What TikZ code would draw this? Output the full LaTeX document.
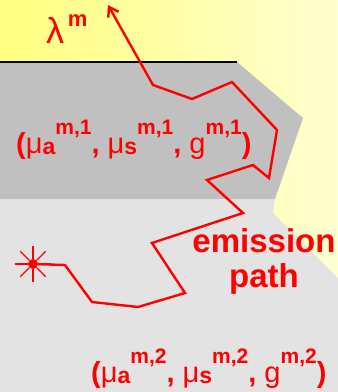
\documentclass[tikz,border=0pt]{standalone}
\usepackage{fontspec}
\setmainfont{Liberation Sans}
\usepackage{tikz}
\usetikzlibrary{arrows.meta}
\definecolor{cYelDeep}{HTML}{FFFF80}
\definecolor{cYelPale}{HTML}{FFFFD0}
\definecolor{cLayerA}{HTML}{C0C0C0}
\definecolor{cLayerB}{HTML}{E3E3E3}
\definecolor{cPhoton}{HTML}{FF0000}
\newcommand{\lsup}[1]{\raisebox{19pt}{\fontsize{21}{21}\selectfont #1}}
\newcommand{\lsub}[1]{\raisebox{-1pt}{\fontsize{23}{23}\selectfont #1}}
\newcommand{\thin}[1]{{\mdseries #1}}
\tikzset{
  photon/.style={-{Straight Barb[length=9pt,width=12pt]}, line width=2.4pt, draw=cPhoton, line join=miter},
  ray/.style   ={draw=cPhoton, line width=1.1pt},
  srcdot/.style={circle, fill=cPhoton, inner sep=0pt, minimum size=10pt},
  lbl/.style   ={text=cPhoton, inner sep=0pt, font=\bfseries\fontsize{29}{29}\selectfont},
}
\begin{document}
\begin{tikzpicture}[x=1pt,y=-1pt]
        \useasboundingbox (0,0) rectangle (338,392);
        % background and tissue layers
        \shade[left color=cYelDeep, right color=cYelPale] (0,0) rectangle (338,392);
        \fill[cLayerA] (0,62) -- (237,62) -- (303,118) -- (275,199) -- (0,199) -- cycle;
        \fill[cLayerB] (0,199) -- (275,199) -- (273,213) -- (338,278) -- (338,392) -- (0,392) -- cycle;
        \draw[black,line width=2pt] (0,62) -- (237,62);
        % emission path
        \node[srcdot] (src) at (33,264){};
        \foreach \a in {0,45,...,315} \draw[ray] (src) -- ++(\a:18);
        \coordinate (p1) at (65,265);
        \coordinate (p2) at (92,302);
        \coordinate (p3) at (138,307);
        \coordinate (p4) at (185,293);
        \coordinate (p5) at (152,243);
        \coordinate (p6) at (243,213);
        \coordinate (p7) at (207,180);
        \coordinate (p8) at (253,165);
        \coordinate (p9) at (269,178);
        \coordinate (p10) at (277,130);
        \coordinate (p11) at (232,82);
        \coordinate (p12) at (192,99);
        \coordinate (p13) at (153,85);
        \coordinate (tip) at (108,5);
        \draw[photon] (src) -- (p1) -- (p2) -- (p3) -- (p4) -- (p5) -- (p6) -- (p7)
          -- (p8) -- (p9) -- (p10) -- (p11) -- (p12) -- (p13) -- (tip);
        % labels
        \node[lbl, anchor=base west] (lam) at (46,43) {{\mdseries\fontsize{36}{36}\selectfont λ}\raisebox{17pt}{\fontsize{22}{22}\selectfont\,m}};
        \node[lbl, anchor=base west] (optA) at (16,153) {(\thin{μ}\lsub{a}\lsup{m,1}, \thin{μ}\lsub{s}\lsup{m,1}, \thin{g}\lsup{m,1})};
        \node[lbl, anchor=base, align=center, font=\bfseries\fontsize{33}{35}\selectfont] (emit) at (264,287) {emission\\path};
        \node[lbl, anchor=base west] (optB) at (91,382) {(\thin{μ}\lsub{a}\lsup{m,2}, \thin{μ}\lsub{s}\lsup{m,2}, \thin{g}\lsup{m,2})};
      \end{tikzpicture}
\end{document}
